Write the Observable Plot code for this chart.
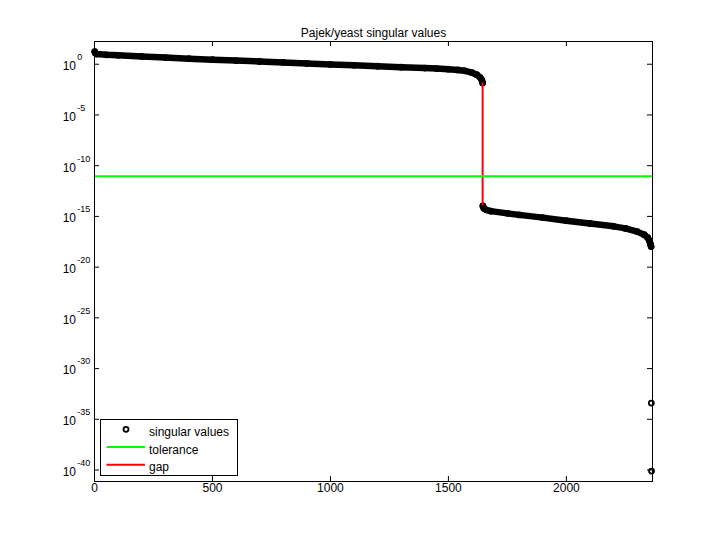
<!DOCTYPE html>
<html>
<head>
<meta charset="utf-8">
<script src="https://cdn.jsdelivr.net/npm/d3@7"></script>
<script src="https://cdn.jsdelivr.net/npm/@observablehq/plot@0.6"></script>
<style>
  html, body { margin: 0; padding: 0; background: white; }
  #wrap { position: relative; width: 720px; height: 540px; }
  #legend { position: absolute; left: 0; top: 0; }
</style>
</head>
<body>
<div id="wrap"></div>
<script>
// ---- data ----
const title = "Pajek/yeast singular values";

// singular values above the gap: index and log10(value)
const upperIndex = [1, 3, 10, 50, 100, 200, 300, 400, 500, 600, 700, 800, 900, 1000, 1100, 1200, 1300, 1400, 1450, 1500, 1540, 1570, 1600, 1620, 1635, 1642, 1645];
const upperLog10 = [1.25, 1.10, 1.00, 0.93, 0.88, 0.77, 0.66, 0.55, 0.45, 0.36, 0.27, 0.18, 0.08, -0.02, -0.11, -0.20, -0.29, -0.38, -0.43, -0.49, -0.56, -0.65, -0.83, -1.03, -1.32, -1.58, -1.85];

// singular values below the gap
const lowerIndex = [1646, 1650, 1660, 1680, 1750, 1800, 1900, 2000, 2100, 2200, 2250, 2300, 2330, 2345, 2352, 2356, 2359];
const lowerLog10 = [-13.97, -14.20, -14.35, -14.48, -14.70, -14.85, -15.12, -15.42, -15.70, -15.98, -16.18, -16.50, -16.80, -17.10, -17.40, -17.70, -17.97];

// the two smallest singular values
const tailIndex = [2360, 2361];
const tailLog10 = [-33.4, -40.1];

const toleranceLog10 = -11.03;
const gapIndex = 1645;

const xTicks = [0, 500, 1000, 1500, 2000];
const yTickExps = [0, -5, -10, -15, -20, -25, -30, -35, -40];
const xDomain = [0, 2365];
const yDomainLog10 = [-41.13, 2.24];

const legendLabels = ["singular values", "tolerance", "gap"];

// ---- build ----
const upper = upperIndex.map((i, k) => ({i, v: 10 ** upperLog10[k]}));
const lower = lowerIndex.map((i, k) => ({i, v: 10 ** lowerLog10[k]}));
const tail = tailIndex.map((i, k) => ({i, v: 10 ** tailLog10[k]}));
const allPts = upper.concat(lower, tail);
const gap = [{i: gapIndex, v1: upper[upper.length - 1].v, v2: lower[0].v}];
const tolerance = 10 ** toleranceLog10;

const bandStyle = {x: "i", y: "v", stroke: "black", strokeWidth: 6.5, strokeLinecap: "round", strokeLinejoin: "round"};

const chart = Plot.plot({
  width: 720,
  height: 540,
  marginLeft: 94,
  marginRight: 68,
  marginTop: 41,
  marginBottom: 59,
  style: {fontFamily: "'Liberation Sans', Arial, sans-serif", fontSize: "12px", background: "white", color: "black"},
  x: {domain: xDomain, axis: null},
  y: {type: "log", domain: yDomainLog10.map(e => 10 ** e), axis: null},
  marks: [
    Plot.line(upper, bandStyle),
    Plot.line(lower, bandStyle),
    Plot.dot(allPts, {x: "i", y: "v", r: 2.5, stroke: "black", strokeWidth: 1.8, fill: "none"}),
    Plot.ruleX(gap, {x: "i", y1: "v1", y2: "v2", stroke: "#ff0000", strokeWidth: 2}),
    Plot.ruleY([tolerance], {stroke: "#00ff00", strokeWidth: 2}),
    // inward ticks on all four sides
    Plot.tickX(xTicks, {x: d => d, insetTop: 435, stroke: "black"}),
    Plot.tickX(xTicks, {x: d => d, insetBottom: 435, stroke: "black"}),
    Plot.tickY(yTickExps, {y: e => 10 ** e, insetRight: 553, stroke: "black"}),
    Plot.tickY(yTickExps, {y: e => 10 ** e, insetLeft: 553, stroke: "black"}),
    Plot.frame({stroke: "black"}),
    // tick labels
    Plot.text(xTicks, {x: d => d, frameAnchor: "bottom", dy: 10.8, text: d => String(d), fill: "black"}),
    Plot.text(yTickExps, {y: e => 10 ** e, frameAnchor: "left", text: () => "10", textAnchor: "end", dx: -18.5, dy: 2, fill: "black"}),
    Plot.text(yTickExps, {y: e => 10 ** e, frameAnchor: "left", text: e => String(e), textAnchor: "start", dx: -17.3, dy: -7, fontSize: 9, fill: "black"}),
    // title
    Plot.text([title], {frameAnchor: "top", dy: -12.7, text: d => d, fill: "black"})
  ]
});

const wrap = document.getElementById("wrap");
wrap.appendChild(chart);

// legend box (inside the axes, lower left)
const ns = "http://www.w3.org/2000/svg";
const lg = document.createElementNS(ns, "svg");
lg.setAttribute("id", "legend");
lg.setAttribute("width", 720);
lg.setAttribute("height", 540);
lg.style.fontFamily = "'Liberation Sans', Arial, sans-serif";
lg.style.fontSize = "12px";
function el(tag, attrs, txt) {
  const e = document.createElementNS(ns, tag);
  for (const k in attrs) e.setAttribute(k, attrs[k]);
  if (txt != null) e.textContent = txt;
  lg.appendChild(e);
  return e;
}
el("rect", {x: 100.5, y: 419.5, width: 137, height: 56, fill: "white", stroke: "black", "stroke-width": 1});
el("circle", {cx: 126, cy: 429.3, r: 2.5, fill: "none", stroke: "black", "stroke-width": 1.8});
el("line", {x1: 106.5, x2: 145, y1: 447, y2: 447, stroke: "#00ff00", "stroke-width": 2});
el("line", {x1: 106.5, x2: 145, y1: 464.7, y2: 464.7, stroke: "#ff0000", "stroke-width": 2});
el("text", {x: 149, y: 435.5, fill: "black"}, legendLabels[0]);
el("text", {x: 149, y: 453.5, fill: "black"}, legendLabels[1]);
el("text", {x: 149, y: 471, fill: "black"}, legendLabels[2]);
wrap.appendChild(lg);
</script>
</body>
</html>
